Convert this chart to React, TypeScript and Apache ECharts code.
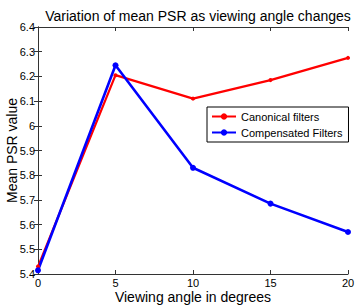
import React, { useEffect, useRef } from "react";
import * as echarts from "echarts";

const angles = [0, 5, 10, 15, 20];
const canonical = [5.43, 6.205, 6.11, 6.185, 6.275];
const compensated = [5.415, 6.245, 5.83, 5.685, 5.57];

const FONT = "Liberation Sans, Arial, sans-serif";

export default function App() {
  const ref = useRef<HTMLDivElement>(null);
  useEffect(() => {
    const chart = echarts.init(ref.current!, null, { renderer: "svg" });
    const axisLine = { show: true, lineStyle: { color: "#333", width: 1 } };
    chart.setOption({
      animation: false,
      backgroundColor: "#fff",
      title: {
        text: "Variation of mean PSR as viewing angle changes",
        left: 193,
        textAlign: "center",
        top: 4,
        textStyle: { fontFamily: FONT, fontSize: 14, fontWeight: "normal", color: "#000" },
      },
      grid: { left: 38, right: 9, top: 27, bottom: 33, containLabel: false, outerBoundsMode: "none" },
      legend: {
        data: ["Canonical filters", "Compensated Filters"],
        orient: "vertical",
        left: 207,
        top: 107,
        width: 140,
        itemWidth: 24,
        itemHeight: 8,
        itemGap: 5,
        padding: [4, 6, 4, 4],
        borderColor: "#000",
        borderWidth: 1,
        backgroundColor: "#fff",
        textStyle: { fontFamily: FONT, fontSize: 11, color: "#000" },
      },
      xAxis: [
        {
          type: "value",
          min: 0,
          max: 20,
          interval: 5,
          name: "Viewing angle in degrees",
          nameLocation: "middle",
          nameGap: 16,
          nameMoveOverlap: false,
          nameTextStyle: { fontFamily: FONT, fontSize: 14, color: "#000" },
          axisLine,
          axisTick: { inside: true, length: 4, lineStyle: { color: "#333" } },
          axisLabel: { fontFamily: FONT, fontSize: 11, color: "#000", margin: 3 },
          splitLine: { show: false },
        },
        {
          type: "value",
          position: "top",
          min: 0,
          max: 20,
          interval: 5,
          axisLine,
          axisTick: { inside: true, length: 4, lineStyle: { color: "#333" } },
          axisLabel: { show: false },
          splitLine: { show: false },
        },
      ],
      yAxis: [
        {
          type: "value",
          min: 5.4,
          max: 6.4,
          interval: 0.1,
          name: "Mean PSR value",
          nameLocation: "middle",
          nameGap: 19,
          nameMoveOverlap: false,
          nameTextStyle: { fontFamily: FONT, fontSize: 14, color: "#000" },
          axisLine,
          axisTick: { inside: true, length: 4, lineStyle: { color: "#333" } },
          axisLabel: {
            fontFamily: FONT,
            fontSize: 11,
            color: "#000",
            margin: 3,
            formatter: (v: number) => String(Math.round(v * 10) / 10),
          },
          splitLine: { show: false },
        },
        {
          type: "value",
          position: "right",
          min: 5.4,
          max: 6.4,
          interval: 0.1,
          axisLine,
          axisTick: { inside: true, length: 4, lineStyle: { color: "#333" } },
          axisLabel: { show: false },
          splitLine: { show: false },
        },
      ],
      series: [
        {
          name: "Canonical filters",
          type: "line",
          data: angles.map((a, i) => [a, canonical[i]]),
          color: "#ff0000",
          lineStyle: { width: 2.2, color: "#ff0000" },
          symbol: "circle",
          symbolSize: 4,
          itemStyle: { color: "#ff0000" },
          showSymbol: true,
        },
        {
          name: "Compensated Filters",
          type: "line",
          data: angles.map((a, i) => [a, compensated[i]]),
          color: "#0000ff",
          lineStyle: { width: 2.6, color: "#0000ff" },
          symbol: "circle",
          symbolSize: 6,
          itemStyle: { color: "#0000ff" },
          showSymbol: true,
        },
      ],
    });
    return () => chart.dispose();
  }, []);
  return <div ref={ref} style={{ width: 357, height: 307, position: "absolute", left: 0, top: 0 }} />;
}
